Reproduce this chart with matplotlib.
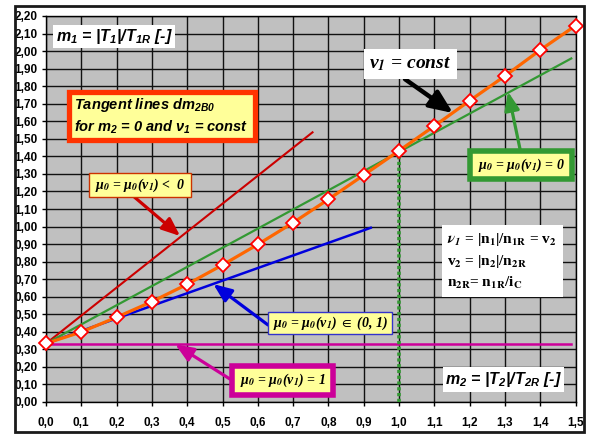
import matplotlib
matplotlib.use("Agg")
import matplotlib.pyplot as plt
from matplotlib.patches import Rectangle

# ---- data -------------------------------------------------------------
m2_values = [0.0, 0.1, 0.2, 0.3, 0.4, 0.5, 0.6, 0.7, 0.8, 0.9,
             1.0, 1.1, 1.2, 1.3, 1.4, 1.5]
m1_values = [0.334, 0.399, 0.483, 0.572, 0.671, 0.781, 0.898, 1.022,
             1.155, 1.293, 1.432, 1.573, 1.717, 1.858, 2.006, 2.145]

# tangent lines dm2B0 (start point, end point)
tan_red_x = [0.0, 0.755]
tan_red_y = [0.333, 1.537]
tan_green_x = [0.0, 1.488]
tan_green_y = [0.333, 1.958]
tan_blue_x = [0.0, 0.920]
tan_blue_y = [0.333, 0.993]
tan_magenta_x = [0.0, 1.488]
tan_magenta_y = [0.333, 0.333]
marker_x = [1.0, 1.0]
marker_y = [0.0, 1.432]

x_ticks = [i / 10 for i in range(16)]
y_ticks = [i / 10 for i in range(23)]
x_tick_labels = [f"{v:.1f}".replace(".", ",") for v in x_ticks]
y_tick_labels = [f"{v:.2f}".replace(".", ",") for v in y_ticks]

# ---- fonts ------------------------------------------------------------
plt.rcParams["font.family"] = ["Liberation Sans", "DejaVu Sans"]
plt.rcParams["mathtext.fontset"] = "custom"
plt.rcParams["mathtext.rm"] = "Liberation Sans:italic:bold"
plt.rcParams["mathtext.it"] = "Liberation Sans:italic:bold"
plt.rcParams["mathtext.bf"] = "Liberation Sans:italic:bold"

RED = "#CC0000"
GREEN = "#339933"
BLUE = "#0000DD"
MAGENTA = "#CC0099"
ORANGE = "#FF6600"
YELLOW = "#FFFF99"

fig = plt.figure(figsize=(5.9, 4.34), dpi=100)
fig.patch.set_facecolor("white")
ax = fig.add_axes([46 / 590, 1 - 402 / 434, (575.5 - 46) / 590, (402 - 16) / 434])
ax.set_facecolor("#C0C0C0")
ax.set_xlim(0, 1.5)
ax.set_ylim(0, 2.2)
ax.set_xticks(x_ticks)
ax.set_xticklabels(x_tick_labels)
ax.set_yticks(y_ticks)
ax.set_yticklabels(y_tick_labels)
ax.tick_params(axis="both", direction="out", length=3, width=1, labelsize=8.5)
ax.tick_params(axis="x", pad=8)
ax.tick_params(axis="y", pad=3)
for lab in ax.get_xticklabels() + ax.get_yticklabels():
    lab.set_fontweight("bold")
ax.grid(True, color="#111111", linewidth=1.0)
ax.set_axisbelow(True)
for side, sp in ax.spines.items():
    sp.set_color("black")
    sp.set_linewidth(1.0)

# ---- curves -----------------------------------------------------------
ax.plot(tan_magenta_x, tan_magenta_y, color=MAGENTA, lw=1.8, zorder=3)
ax.plot(tan_red_x, tan_red_y, color=RED, lw=1.5, zorder=3)
ax.plot(tan_green_x, tan_green_y, color=GREEN, lw=1.6, zorder=3)
ax.plot(tan_blue_x, tan_blue_y, color=BLUE, lw=1.8, zorder=3)
ax.plot(marker_x, marker_y, color=GREEN, lw=2.6, ls=(0, (0.9, 0.7)), zorder=3)
ax.plot(m2_values, m1_values, color=ORANGE, lw=2.3, marker="D", ms=7,
        mfc="white", mec="#FF0000", mew=1.3, zorder=4, clip_on=False)


# ---- annotation boxes -------------------------------------------------
def box(x0, y0, x1, y1, fc, ec, lw):
    ax.add_patch(Rectangle((x0, y1), x1 - x0, y0 - y1, facecolor=fc,
                           edgecolor=ec, linewidth=lw, zorder=6))
    return ((x0 + x1) / 2, (y0 + y1) / 2)


def arrow(tail, head, color, lw, hl, hw):
    ax.annotate("", xy=head, xytext=tail, zorder=5,
                arrowprops=dict(arrowstyle=f"-|>,head_length={hl},head_width={hw}",
                                color=color, lw=lw, shrinkA=0, shrinkB=0))


sans_bi = dict(family="Liberation Sans", weight="bold", style="italic",
               math_fontfamily="custom", zorder=7, va="center", ha="center")
serif_bi = dict(family="Liberation Serif", weight="bold", style="italic",
                math_fontfamily="stix", zorder=7, va="center", ha="center")
serif_b = dict(family="Liberation Serif", weight="bold",
               math_fontfamily="stix", zorder=7, va="center", ha="center")

# arrows
arrow((1.017, 1.840), (1.153, 1.647), "black", 3.2, 1.4, 0.6)
arrow((1.343, 1.440), (1.309, 1.768), GREEN, 2.3, 1.1, 0.45)
arrow((0.247, 1.174), (0.380, 0.946), RED, 2.3, 1.1, 0.45)
arrow((0.629, 0.439), (0.474, 0.672), BLUE, 2.3, 1.1, 0.45)
arrow((0.521, 0.131), (0.366, 0.329), MAGENTA, 2.3, 1.1, 0.45)

c = box(0.0195, 2.148, 0.3655, 2.016, "white", "none", 0)
ax.text(c[0], c[1], r"m$_1$ = |T$_1$|/T$_{1R}$ [-]", fontsize=11.5, **sans_bi)

c = box(0.065, 1.767, 0.592, 1.493, YELLOW, "#FF3300", 3.8)
ax.text(c[0] - 0.002, c[1], "Tangent lines dm$_{2B0}$\nfor m$_2$ = 0 and ν$_1$ = const",
        fontsize=10.5, linespacing=1.3, multialignment="left", **sans_bi)

c = box(0.901, 2.010, 1.164, 1.841, "white", "none", 0)
ax.text(c[0], c[1], r"v$_{\mathbfit{1}}$ = const", fontsize=14, **serif_bi)

c = box(1.2015, 1.4334, 1.4905, 1.2682, YELLOW, GREEN, 4.0)
ax.text(c[0], c[1], r"μ$_{\mathbfit{0}}$ = μ$_{\mathbfit{0}}$(v$_{\mathbfit{1}}$) = 0",
        fontsize=10, **serif_bi)

c = box(0.1218, 1.3052, 0.4109, 1.1684, YELLOW, "#CC3300", 1.0)
ax.text(c[0], c[1], r"μ$_{\mathbfit{0}}$ = μ$_{\mathbfit{0}}$(v$_{\mathbfit{1}}$) <  0",
        fontsize=10, **serif_bi)

c = box(0.629, 0.513, 0.980, 0.388, YELLOW, "#3333CC", 1.0)
ax.text(c[0], c[1], r"μ$_{\mathbfit{0}}$ = μ$_{\mathbfit{0}}$(v$_{\mathbfit{1}}$) $\in$ (0, 1)",
        fontsize=10, **serif_bi)

c = box(0.527, 0.205, 0.813, 0.040, YELLOW, MAGENTA, 4.0)
ax.text(c[0], c[1], r"μ$_{\mathbfit{0}}$ = μ$_{\mathbfit{0}}$(v$_{\mathbfit{1}}$) = 1",
        fontsize=10, **serif_bi)

c = box(1.121, 1.009, 1.464, 0.598, "white", "none", 0)
ax.text(c[0], c[1],
        r"$\mathbfit{\nu}_{\mathbfit{1}}$ = |n$_{\mathbf{1}}$|/n$_{\mathbf{1R}}$ = v$_{\mathbf{2}}$" "\n"
        r"v$_{\mathbf{2}}$ = |n$_{\mathbf{2}}$|/n$_{\mathbf{2R}}$" "\n"
        r"n$_{\mathbf{2R}}$= n$_{\mathbf{1R}}$/i$_{\mathbf{C}}$",
        fontsize=11, linespacing=1.45, multialignment="left", **serif_b)

c = box(1.124, 0.201, 1.468, 0.059, "white", "none", 0)
ax.text(c[0], c[1], r"m$_2$ = |T$_2$|/T$_{2R}$ [-]", fontsize=11.5, **sans_bi)

# outer frame of the chart
fig.add_artist(Rectangle((15 / 590, 2 / 434), (584 - 15) / 590, (428 - 2) / 434,
                         transform=fig.transFigure, fill=False,
                         edgecolor="#1a1a1a", linewidth=2.0))

fig.savefig("out.png", dpi=100)
